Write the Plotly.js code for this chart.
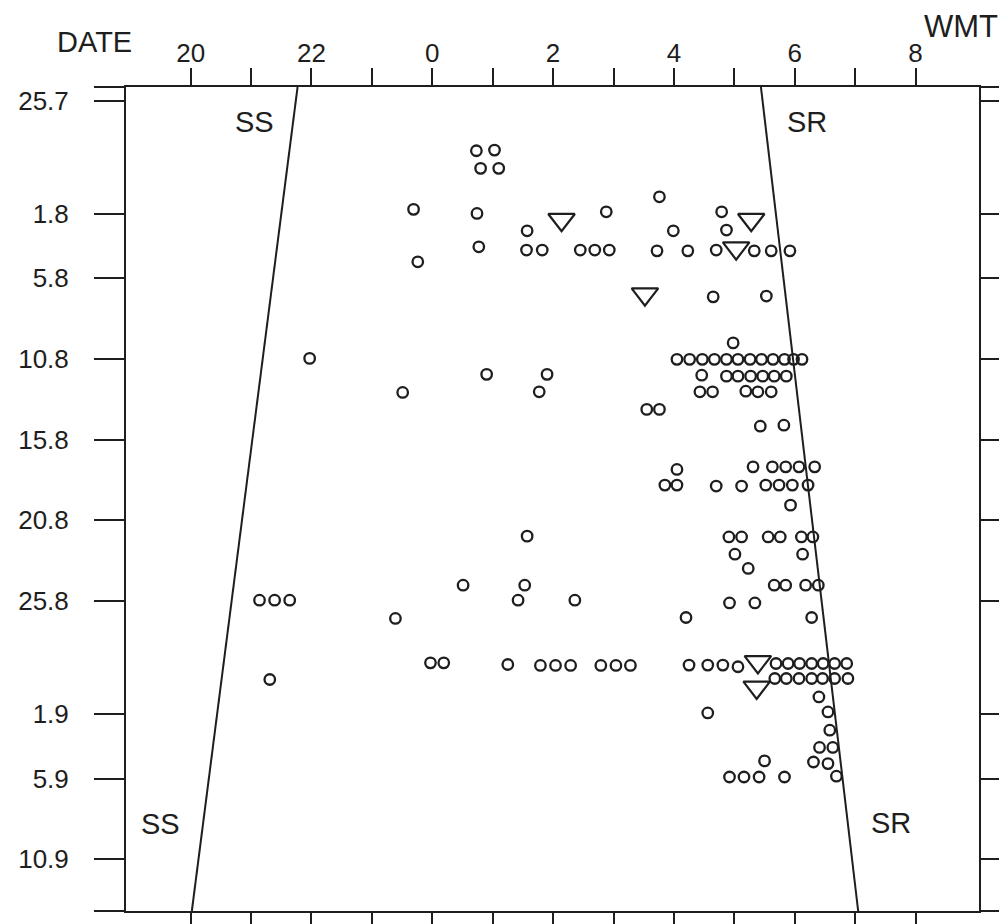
<!DOCTYPE html>
<html>
<head>
<meta charset="utf-8">
<script src="https://cdn.plot.ly/plotly-3.0.1.min.js"></script>
<style>html,body{margin:0;padding:0;background:#fff;}#chart{width:999px;height:924px;}</style>
</head>
<body>
<div id="chart"></div>
<script>
// Time in hours (WMT); values above 24 are after midnight.
// Day index: 0 = 25.7, 7 = 1.8, 38 = 1.9 ...
var circleTime = [
  24.73, 25.03, 24.80, 25.10,
  23.69, 24.74, 26.88, 28.79, 27.76,
  25.57, 27.99, 28.87,
  24.77, 23.76, 25.56, 25.82, 26.45, 26.69, 26.93, 27.72, 28.23, 28.70, 29.33, 29.61, 29.92,
  28.65, 29.53,
  28.98,
  28.05, 28.26, 28.47, 28.67, 28.87, 29.06, 29.26, 29.45, 29.64, 29.83, 29.98, 30.12,
  28.46, 28.87, 29.06, 29.27, 29.47, 29.66, 29.86,
  28.43, 28.64, 29.19, 29.39, 29.61,
  21.97, 23.51, 24.90, 25.90, 25.77,
  27.55, 27.76,
  29.43, 29.82,
  28.05, 29.31, 29.63, 29.85, 30.07, 30.33,
  27.85, 28.05, 28.70, 29.12, 29.52, 29.74, 29.96, 30.22,
  29.93,
  25.57, 28.91, 29.12, 29.56, 29.76, 30.11, 30.30,
  29.01, 30.13, 29.23,
  24.51, 25.53, 29.66, 29.85, 30.18, 30.39,
  21.14, 21.39, 21.64, 25.42, 26.36,
  28.92, 29.34,
  23.39, 28.20, 30.28,
  23.97, 24.19, 25.25, 25.79, 26.04, 26.29, 26.79, 27.04, 27.28,
  28.25, 28.56, 28.81, 29.06,
  29.69, 29.89, 30.08, 30.28, 30.47, 30.66, 30.86,
  29.67, 29.86, 30.07, 30.28, 30.46, 30.66, 30.88,
  21.31,
  30.40, 28.56, 30.55, 30.58,
  30.41, 30.63, 30.31, 30.55, 29.50, 30.69,
  28.92, 29.16, 29.41, 29.83
];
var circleDay = [
  3.11, 3.07, 4.20, 4.20,
  6.74, 6.99, 6.89, 6.89, 5.96,
  8.07, 8.07, 8.02,
  9.06, 9.99, 9.26, 9.26, 9.26, 9.26, 9.26, 9.31, 9.31, 9.26, 9.31, 9.31, 9.31,
  12.16, 12.11,
  15.01,
  16.03, 16.03, 16.03, 16.03, 16.03, 16.03, 16.03, 16.03, 16.03, 16.03, 16.03, 16.03,
  17.01, 17.07, 17.07, 17.07, 17.07, 17.07, 17.07,
  18.04, 18.04, 18.00, 18.04, 18.04,
  15.97, 18.08, 16.96, 16.96, 18.04,
  19.13, 19.13,
  20.17, 20.11,
  22.85, 22.69, 22.69, 22.69, 22.69, 22.69,
  23.82, 23.82, 23.88, 23.88, 23.82, 23.82, 23.82, 23.82,
  25.06,
  26.98, 27.03, 27.03, 27.03, 27.03, 27.03, 27.03,
  28.10, 28.10, 28.98,
  30.02, 30.02, 30.02, 30.02, 30.02, 30.02,
  30.95, 30.95, 30.95, 30.95, 30.95,
  31.12, 31.12,
  32.08, 32.02, 32.02,
  34.83, 34.83, 34.93, 34.99, 34.99, 34.99, 34.99, 34.99, 34.99,
  34.97, 34.97, 34.97, 35.07,
  34.87, 34.87, 34.87, 34.87, 34.87, 34.87, 34.87,
  35.80, 35.80, 35.80, 35.80, 35.80, 35.80, 35.80,
  35.86,
  36.94, 37.93, 37.87, 39.00,
  40.07, 40.07, 40.97, 41.07, 40.90, 41.85,
  41.90, 41.90, 41.90, 41.90
];
var triTime = [26.14, 29.28, 29.03, 27.52, 29.39, 29.37];
var triDay  = [7.38, 7.38, 9.14, 11.99, 34.77, 36.35];

var ssTime = [21.77, 20.02];
var ssDay  = [-0.84, 50.2];
var srTime = [29.44, 31.05];
var srDay  = [-0.84, 50.2];

var dayTickVals = [-0.84, 0, 7, 11, 16, 21, 26, 31, 38, 42, 47, 50.2];
var dayTickText = ['', '25.7', '1.8', '5.8', '10.8', '15.8', '20.8', '25.8', '1.9', '5.9', '10.9', ''];
var hourTickVals = [20, 21, 22, 23, 24, 25, 26, 27, 28, 29, 30, 31, 32];
var hourTickText = ['20', '', '22', '', '0', '', '2', '', '4', '', '6', '', '8'];

var ink = '#1e1e1e';
var fontFam = '"Liberation Sans", Arial, sans-serif';

var traces = [
  {x: ssTime, y: ssDay, mode: 'lines', line: {color: ink, width: 2}, hoverinfo: 'skip', showlegend: false},
  {x: srTime, y: srDay, mode: 'lines', line: {color: ink, width: 2}, hoverinfo: 'skip', showlegend: false},
  {x: circleTime, y: circleDay, mode: 'markers', showlegend: false,
   marker: {symbol: 'circle-open', size: 10.5, color: ink, line: {color: ink, width: 2.3}}},
  {x: triTime, y: triDay, mode: 'markers', showlegend: false,
   marker: {symbol: 'triangle-down-open', size: 23, color: ink, line: {color: ink, width: 2.2}}}
];

var layout = {
  width: 999, height: 924,
  margin: {l: 126, r: 20, t: 87, b: 13, pad: 0},
  paper_bgcolor: '#ffffff', plot_bgcolor: '#ffffff',
  showlegend: false,
  font: {family: fontFam, color: ink, size: 25},
  xaxis: {
    side: 'top', range: [18.93, 33.05], autorange: false,
    tickmode: 'array', tickvals: hourTickVals, ticktext: hourTickText,
    ticks: 'outside', ticklen: 17, tickwidth: 2, tickcolor: ink,
    showline: true, linewidth: 2, linecolor: ink, mirror: 'allticks',
    showgrid: false, zeroline: false,
    tickfont: {family: fontFam, size: 26, color: ink},
    ticklabelstandoff: -4
  },
  yaxis: {
    range: [50.2, -0.84], autorange: false,
    tickmode: 'array', tickvals: dayTickVals, ticktext: dayTickText,
    ticks: 'outside', ticklen: 30, tickwidth: 2, tickcolor: ink,
    showline: true, linewidth: 2, linecolor: ink, mirror: 'allticks',
    showgrid: false, zeroline: false,
    tickfont: {family: fontFam, size: 26, color: ink},
    ticklabelstandoff: 20
  },
  annotations: [
    {xref: 'paper', yref: 'paper', x: -0.0375, y: 1.0552, xanchor: 'center', yanchor: 'middle',
     text: 'DATE', showarrow: false, font: {family: fontFam, size: 29, color: ink}},
    {xref: 'paper', yref: 'paper', x: 0.933, y: 1.0734, xanchor: 'left', yanchor: 'middle',
     text: 'WMT', showarrow: false, font: {family: fontFam, size: 31, color: ink}},
    {x: 21.06, y: 1.33, text: 'SS', showarrow: false, font: {family: fontFam, size: 29, color: ink}},
    {x: 30.21, y: 1.30, text: 'SR', showarrow: false, font: {family: fontFam, size: 29, color: ink}},
    {x: 19.50, y: 44.83, text: 'SS', showarrow: false, font: {family: fontFam, size: 29, color: ink}},
    {x: 31.59, y: 44.77, text: 'SR', showarrow: false, font: {family: fontFam, size: 29, color: ink}}
  ]
};

Plotly.newPlot('chart', traces, layout, {staticPlot: true, displayModeBar: false});
</script>
</body>
</html>
